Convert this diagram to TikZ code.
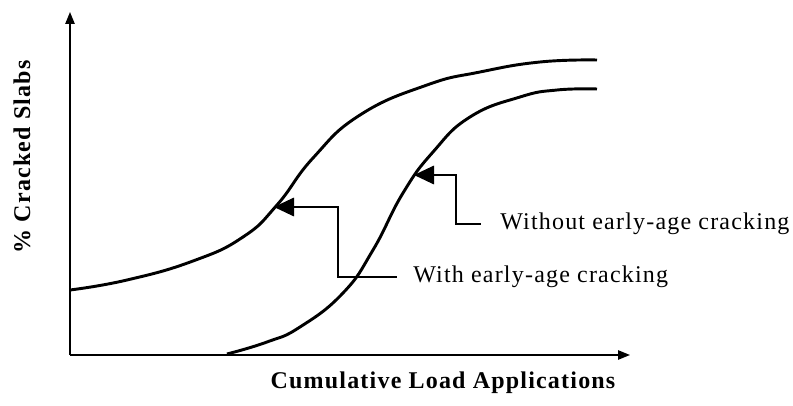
\documentclass[tikz,border=0pt]{standalone}
\usepackage{fontspec}
\setmainfont{Liberation Serif}
\newfontfamily\lblfont[LetterSpace=5]{Liberation Serif}
\newfontfamily\axfont[LetterSpace=5]{Liberation Serif}
\usetikzlibrary{arrows.meta}

\tikzset{
  curve/.style={line width=2.2pt, line join=round},
  axis/.style={line width=1.2pt, -{Triangle[length=9pt,width=7pt]}},
  leader/.style={line width=0.9pt, {Triangle[length=15pt,width=14pt]}-},
  lbl/.style={anchor=west, inner sep=0pt, font=\fontsize{18}{20}\lblfont},
  axlbl/.style={inner sep=0pt, font=\fontsize{18}{20}\axfont\bfseries}
}

\begin{document}
\begin{tikzpicture}[x=0.75pt,y=-0.75pt]
\useasboundingbox (0,0) rectangle (793,406);

% axes
\coordinate (origin) at (70,355);
\coordinate (ytop) at (70,12);
\coordinate (xend) at (630,355);
\draw[axis] (origin) -- (ytop);
\draw[axis] (origin) -- (xend);

% with early-age cracking
\draw[curve] plot[smooth, tension=0.8] coordinates {
  (70,290) (127,280) (193,261) (243,237) (277,205) (313,158)
  (360,115) (427,85) (480,72) (540,62) (597,60)};

% without early-age cracking
\draw[curve] plot[smooth, tension=0.8] coordinates {
  (227,354) (267,342) (300,327) (343,293) (373,250) (403,193)
  (433,152) (470,117) (520,97) (557,90) (597,89)};

% labels
\node[axlbl, rotate=90] (ylab) at (22,157) {\% Cracked Slabs};
\node[axlbl] (xlab) at (443,383) {Cumulative Load Applications};
\node[lbl] (with) at (413,277) {With early-age cracking};
\node[lbl] (without) at (500,224) {Without early-age cracking};

% leaders
\coordinate (withtip) at (274,207);
\coordinate (wotip) at (414,175);
\draw[leader] (withtip) -- (338,207) |- ([xshift=-12pt]with.west);
\draw[leader] (wotip) -- (456,175) |- ([xshift=-14pt]without.west);

\end{tikzpicture}
\end{document}
